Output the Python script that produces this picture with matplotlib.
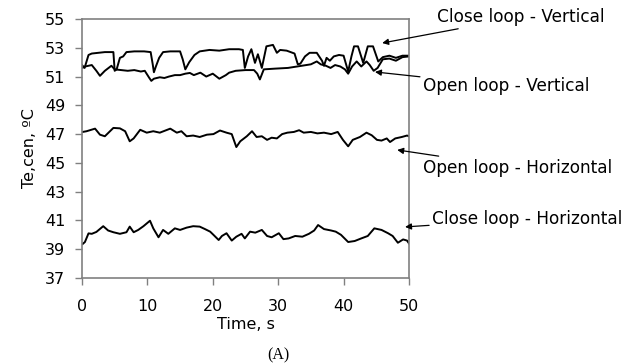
import matplotlib
matplotlib.use("Agg")
import matplotlib.pyplot as plt

# Close loop - Vertical
cv_t = [0, 0.4, 1.0, 1.5, 2.5, 3.5, 4.8, 5.0, 5.3, 5.8, 6.3, 6.8, 8, 9.5, 10.5, 10.8, 11.0, 11.3,
        11.8, 12.4, 13.5, 15.0, 15.4, 15.8, 16.4, 17.2, 18.0, 19.5, 21, 22.5, 24.0, 24.6, 24.9,
        25.4, 25.9, 26.45, 26.9, 27.5, 28.2, 29.2, 29.8, 30.3, 31.3, 32.5, 33.0, 33.4, 34.1, 34.8,
        35.9, 36.7, 37.0, 37.4, 37.9, 38.5, 39.3, 40.0, 40.7, 41.2, 41.6, 42.2, 43.0, 43.7, 44.5,
        45.3, 46.0, 47.0, 48.0, 49.0, 50.0]
cv_v = [51.8, 51.6, 52.5, 52.6, 52.65, 52.7, 52.7, 51.4, 51.5, 52.3, 52.4, 52.7, 52.75, 52.75, 52.7,
        51.9, 51.3, 51.7, 52.3, 52.7, 52.75, 52.75, 52.2, 51.5, 52.0, 52.5, 52.75, 52.85, 52.8, 52.9,
        52.9, 52.85, 51.6, 52.4, 52.9, 51.95, 52.55, 51.6, 53.1, 53.2, 52.65, 52.85, 52.8, 52.6, 51.85,
        51.9, 52.4, 52.65, 52.65, 52.1, 51.75, 52.3, 52.1, 52.4, 52.5, 52.45, 51.35, 52.4, 53.1, 53.1,
        51.95, 53.1, 53.1, 52.05, 52.35, 52.45, 52.3, 52.45, 52.45]

# Open loop - Vertical
ov_t = [0, 0.5, 1.5, 2.2, 2.75, 3.5, 4.5, 5.0, 6.0, 7.0, 8.0, 9.0, 9.6, 10.3, 10.6, 11.0, 11.9,
        12.6, 13.3, 14.2, 15.0, 15.8, 16.5, 17.1, 18.1, 19.0, 20.0, 21.0, 22.0, 22.5, 23.5, 25.0,
        26.3, 26.8, 27.2, 27.8, 29.5, 31.5, 33.6, 35.0, 35.9, 36.5, 37.3, 38.0, 38.7, 39.5, 40.2,
        40.7, 41.3, 42.0, 42.7, 43.5, 44.0, 44.6, 45.2, 46.0, 47.0, 48.0, 49.0, 50.0]
ov_v = [51.6, 51.7, 51.8, 51.4, 51.05, 51.4, 51.75, 51.5, 51.45, 51.4, 51.45, 51.35, 51.4, 50.9,
        50.7, 50.85, 50.95, 50.9, 51.0, 51.1, 51.1, 51.2, 51.25, 51.1, 51.27, 51.0, 51.2, 50.85,
        51.1, 51.27, 51.4, 51.45, 51.45, 51.2, 50.8, 51.5, 51.55, 51.6, 51.75, 51.85, 52.05, 51.85,
        51.75, 51.6, 51.8, 51.7, 51.5, 51.2, 51.7, 52.05, 51.7, 52.05, 51.8, 51.4, 51.6, 52.2, 52.25,
        52.1, 52.35, 52.4]

# Open loop - Horizontal
oh_t = [0.1, 0.7, 2.0, 2.75, 3.5, 4.8, 5.8, 6.6, 7.3, 7.9, 8.9, 9.9, 10.9, 11.9, 13.5, 14.5, 15.2,
        16.0, 17.0, 18.0, 19.1, 20.1, 21.1, 22.1, 22.9, 23.6, 24.2, 25.2, 26.0, 26.7, 27.5, 28.3,
        29.0, 29.8, 30.6, 31.4, 32.4, 33.2, 33.9, 35.0, 36.0, 37.0, 38.1, 39.1, 39.9, 40.7, 41.4,
        42.5, 43.5, 44.3, 45.1, 45.8, 46.6, 47.1, 47.9, 48.9, 49.7, 50.0]
oh_v = [47.15, 47.2, 47.38, 46.96, 46.85, 47.43, 47.4, 47.2, 46.5, 46.7, 47.3, 47.1, 47.2, 47.1,
        47.38, 47.1, 47.2, 46.85, 46.9, 46.8, 46.96, 47.0, 47.25, 47.1, 47.0, 46.1, 46.5, 46.85,
        47.2, 46.8, 46.85, 46.6, 46.75, 46.7, 47.0, 47.1, 47.15, 47.27, 47.1, 47.15, 47.05, 47.1,
        47.0, 47.15, 46.6, 46.15, 46.6, 46.8, 47.1, 46.92, 46.6, 46.55, 46.7, 46.45, 46.7, 46.8,
        46.9, 46.85]

# Close loop - Horizontal
ch_t = [0.1, 0.45, 1.0, 1.5, 2.2, 3.25, 4.0, 4.8, 5.8, 6.8, 7.3, 7.9, 8.6, 9.4, 10.4, 10.9, 11.7,
        12.4, 13.2, 14.2, 15.0, 16.0, 17.0, 18.0, 18.8, 19.6, 20.1, 20.9, 21.4, 22.1, 22.9, 23.6,
        24.4, 24.9, 25.7, 26.5, 27.5, 28.3, 29.0, 30.1, 30.8, 31.6, 32.6, 33.7, 34.7, 35.5, 36.1,
        37.0, 38.1, 38.8, 39.6, 40.7, 41.7, 42.7, 43.7, 44.7, 45.8, 46.8, 47.5, 48.3, 49.1, 49.7, 50.0]
ch_v = [39.36, 39.5, 40.1, 40.07, 40.2, 40.6, 40.3, 40.18, 40.07, 40.18, 40.57, 40.18, 40.34, 40.6,
        40.98, 40.45, 39.83, 40.34, 40.07, 40.45, 40.34, 40.5, 40.6, 40.57, 40.4, 40.22, 40.0, 39.64,
        39.92, 40.11, 39.6, 39.87, 40.07, 39.75, 40.22, 40.15, 40.34, 39.92, 39.83, 40.11, 39.7,
        39.75, 39.92, 39.87, 40.07, 40.3, 40.68, 40.4, 40.3, 40.22, 40.0, 39.5, 39.57, 39.75, 39.92,
        40.45, 40.34, 40.11, 39.92, 39.45, 39.68, 39.6, 39.4]

x_ticks = [0, 10, 20, 30, 40, 50]
y_ticks = [37, 39, 41, 43, 45, 47, 49, 51, 53, 55]

plt.rcParams['font.family'] = ['DejaVu Sans']
fig = plt.figure(figsize=(6.34, 3.64), dpi=100)
ax = fig.add_axes([0.1293, 0.2363, 0.5158, 0.7115])

for t, v in [(cv_t, cv_v), (ov_t, ov_v), (oh_t, oh_v), (ch_t, ch_v)]:
    ax.plot(t, v, color='black', lw=1.4)

ax.set_xlim(0, 50)
ax.set_ylim(37, 55)
ax.set_xticks(x_ticks)
ax.set_yticks(y_ticks)
ax.tick_params(labelsize=11.5, colors='#808080', labelcolor='black', length=5, width=1)
ax.tick_params(axis='x', pad=10)
ax.tick_params(axis='y', pad=7)
for s in ax.spines.values():
    s.set_color('#808080')
    s.set_linewidth(1.2)

ax.set_xlabel('Time, s', fontsize=11.5, labelpad=2)
ax.set_ylabel('Te,cen, ºC', fontsize=11.5, labelpad=6)

ann = dict(fontsize=12.2, va='center', ha='left', annotation_clip=False)
arw = dict(arrowstyle='-|>', color='black', lw=0.9, mutation_scale=9, shrinkA=0, shrinkB=0)
ax.annotate('Close loop - Vertical', xy=(45.9, 53.33), xytext=(54.3, 55.14),
            arrowprops=arw, **ann)
ax.annotate('Open loop - Vertical', xy=(44.8, 51.32), xytext=(52.1, 50.34),
            arrowprops=arw, **ann)
ax.annotate('Open loop - Horizontal', xy=(48.2, 45.9), xytext=(52.1, 44.65),
            arrowprops=arw, **ann)
ax.annotate('Close loop - Horizontal', xy=(49.4, 40.55), xytext=(53.5, 41.1),
            arrowprops=arw, **ann)

fig.text(278 / 634, 1 - 355 / 364, '(A)', family='Liberation Serif', fontsize=11.5,
         ha='center', va='center')

fig.savefig('out.png', dpi=100)
